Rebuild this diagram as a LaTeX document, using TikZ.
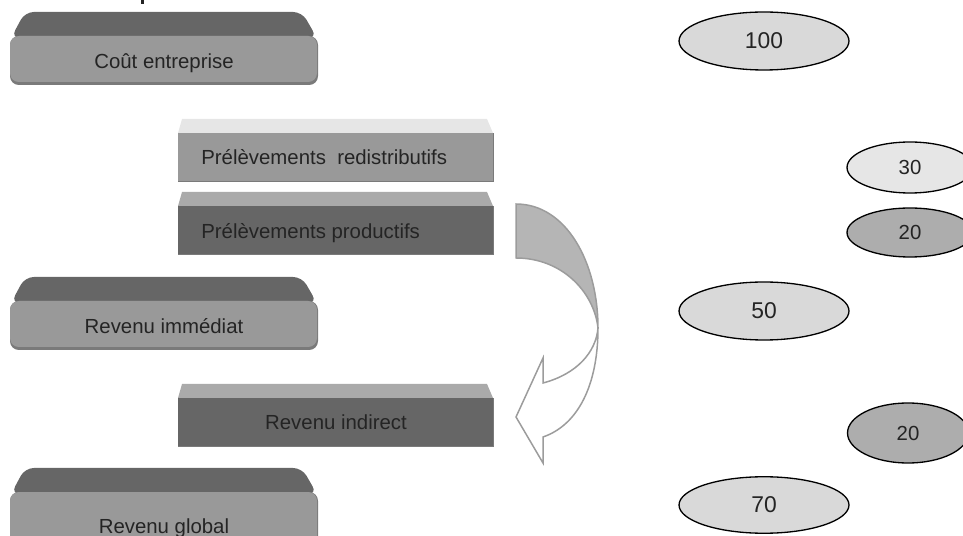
\documentclass[tikz,border=0pt]{standalone}
\usepackage{fontspec}
\setmainfont{Liberation Sans}
\usetikzlibrary{shapes.geometric}
\definecolor{txt}{HTML}{242424}
\definecolor{darkface}{HTML}{666666}
\definecolor{midface}{HTML}{999999}
\definecolor{lightface}{HTML}{E6E6E6}
\definecolor{paleface}{HTML}{AAAAAA}
\definecolor{edgeshade}{HTML}{7A7A7A}
\definecolor{ellfill}{HTML}{D9D9D9}
\definecolor{ellpale}{HTML}{E6E6E6}
\definecolor{elldark}{HTML}{ADADAD}
\definecolor{arrowline}{HTML}{9C9C9C}
\definecolor{arrowfill}{HTML}{B5B5B5}
\tikzset{
  boxtext/.style={text=txt, font=\fontsize{11.6pt}{13pt}\selectfont, inner sep=0pt, anchor=base},
  ovalbig/.style={ellipse, draw=black, line width=0.75pt, fill=ellfill, text=txt,
     font=\fontsize{13pt}{15pt}\selectfont, inner sep=0pt, minimum width=3.4cm, minimum height=1.16cm},
  ovalsmall/.style={ellipse, draw=black, line width=0.75pt, text=txt,
     font=\fontsize{11.6pt}{13pt}\selectfont, inner sep=0pt},
  arrowpart/.style={draw=arrowline, line width=0.85pt, line join=miter}
}
\newcommand{\bigslab}[4]{% #1 top y, #2 front height, #3 name, #4 baseline y, #5 text
  \fill[darkface, rounded corners=5] (11,#1+26) -- (25,#1) -- (302,#1) -- (317,#1+26) -- cycle;
  \fill[edgeshade, rounded corners=5] (10,#1+24) rectangle (318,#1+24+#2);
  \fill[midface, rounded corners=5] (10,#1+24) rectangle (317,#1+21+#2);
}
\newcommand{\flatslab}[4]{% #1 top y, #2 top colour, #3 front colour
  \fill[#2] (178,#1+14) -- (182,#1) -- (487,#1) -- (493,#1+14) -- cycle;
  \fill[#3] (178,#1+14) rectangle (493,#1+62);
  \draw[edgeshade, line width=0.5pt] (178,#1+62) -- (493,#1+62) -- (493,#1+14);
}
\begin{document}
\begin{tikzpicture}[x=0.02cm, y=-0.02cm]
\useasboundingbox (0,0) rectangle (963,536);
\clip (0,0) rectangle (963,536);

% cut-off title fragment
\fill[txt] (141,0) rectangle (144,4);

% left big slabs
\bigslab{12}{49}{}{}
\node[boxtext] (cout) at (164,69) {Coût entreprise};
\bigslab{277}{49}{}{}
\node[boxtext] (immediat) at (164,334) {Revenu immédiat};
\bigslab{468}{60}{}{}
\node[boxtext] (global) at (164,533) {Revenu global};

% flat slabs
\flatslab{119}{lightface}{midface}{}
\node[boxtext, anchor=base west] (redistrib) at (201,165) {Prélèvements\ \ redistributifs};
\flatslab{192}{paleface}{darkface}{}
\node[boxtext, anchor=base west] (productifs) at (201,238.3) {Prélèvements productifs};
\flatslab{384}{paleface}{darkface}{}
\node[boxtext] (indirect) at (336,429.3) {Revenu indirect};

% curved arrow: back (white) part
\coordinate (B) at (598,328);
\coordinate (E) at (543,383);
\coordinate (C) at (543,437);
\filldraw[arrowpart, fill=white] (B) .. controls (596,352) and (577,374) .. (E)
   -- (543,358) -- (516,417) -- (543,463) -- (C)
   .. controls (578,425) and (598,385) .. (B) -- cycle;
% front (grey) part
\filldraw[arrowpart, fill=arrowfill] (516,204) .. controls (566,204) and (598,262) .. (B)
   .. controls (594,292) and (562,258) .. (516,258) -- cycle;

% ovals
\node[ovalbig] (v100) at (764,41) {100};
\node[ovalsmall, fill=ellpale, minimum width=2.52cm, minimum height=1.02cm] (v30) at (910,167.5) {30};
\node[ovalsmall, fill=elldark, minimum width=2.52cm, minimum height=0.98cm] (v20a) at (910,232.5) {20};
\node[ovalbig] (v50) at (764,311) {50};
\node[ovalsmall, fill=elldark, minimum width=2.42cm, minimum height=1.2cm] (v20b) at (908,433) {20};
\node[ovalbig, minimum height=1.13cm] (v70) at (764,505) {70};
\end{tikzpicture}
\end{document}
